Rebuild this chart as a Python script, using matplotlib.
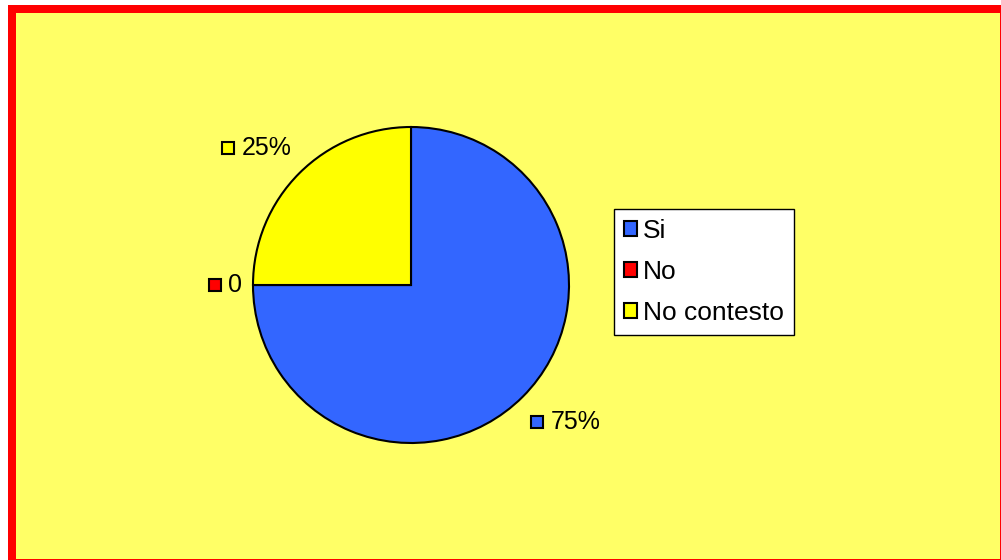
import numpy as np
import matplotlib.pyplot as plt
from matplotlib.patches import Rectangle
from matplotlib.offsetbox import AnnotationBbox, DrawingArea, HPacker, TextArea

# Respuestas de la encuesta
categories = ["Si", "No", "No contesto"]
values = [75, 0, 25]
point_labels = ["75%", "0", "25%"]
colors = ["#3366FF", "#FF0000", "#FFFF00"]

plt.rcParams['font.family'] = ['Liberation Sans', 'DejaVu Sans']

W, H = 1001, 560
fig = plt.figure(figsize=(W / 100, H / 100), dpi=100)
fig.patch.set_facecolor("white")

# work in pixel units, y measured upwards
ax = fig.add_axes([0, 0, 1, 1])
ax.set_xlim(0, W)
ax.set_ylim(0, H)
ax.axis("off")

# chart area: yellow fill with red border (thick on left/top)
ax.add_patch(Rectangle((8, 0), W - 8, H - 5, facecolor="#FF0000", edgecolor="none"))
ax.add_patch(Rectangle((16, 1), W - 17, H - 14, facecolor="#FFFF66", edgecolor="none"))

cx, cy, r = 411, H - 285, 158
wedges, _ = ax.pie(values, colors=colors, startangle=90, counterclock=False,
                   center=(cx, cy), radius=r, frame=True,
                   wedgeprops=dict(edgecolor="black", linewidth=1.5))
ax.set_xlim(0, W)
ax.set_ylim(0, H)
ax.axis("off")

# data labels: small colour square + text placed just outside each slice
total = sum(values)
start = 90.0
Rx, Ry = 169, 177
for val, lab, col in zip(values, point_labels, colors):
    sweep = 360.0 * val / total
    mid = np.deg2rad(start - sweep / 2)
    start -= sweep
    dx, dy = np.cos(mid), np.sin(mid)
    da = DrawingArea(9.5, 9.5, 0, 0)
    da.add_artist(Rectangle((0.5, 0.5), 8.6, 8.6, facecolor=col, edgecolor="black", linewidth=1.5))
    ta = TextArea(lab, textprops=dict(fontsize=18, color="black"))
    box = HPacker(children=[da, ta], align="center", pad=0, sep=5)
    bx = 0.0 if dx > 0.01 else (1.0 if dx < -0.01 else 0.5)
    by = 1.0 if dy < -0.01 else (0.0 if dy > 0.01 else 0.5)
    ab = AnnotationBbox(box, (cx + Rx * dx, cy + Ry * dy), xycoords="data",
                        box_alignment=(bx, by), frameon=False, pad=0)
    ax.add_artist(ab)

leg = ax.legend(wedges, categories, loc="upper left",
                bbox_to_anchor=(614 / W, 1 - 209 / H), bbox_transform=fig.transFigure,
                fontsize=19, frameon=True, fancybox=False, framealpha=1,
                edgecolor="black", facecolor="white",
                handlelength=0.5, handleheight=0.5, handletextpad=0.25,
                labelspacing=0.66, borderpad=0.36, borderaxespad=0)
leg.get_frame().set_linewidth(1)

fig.savefig("out.png", dpi=100, facecolor=fig.get_facecolor())
